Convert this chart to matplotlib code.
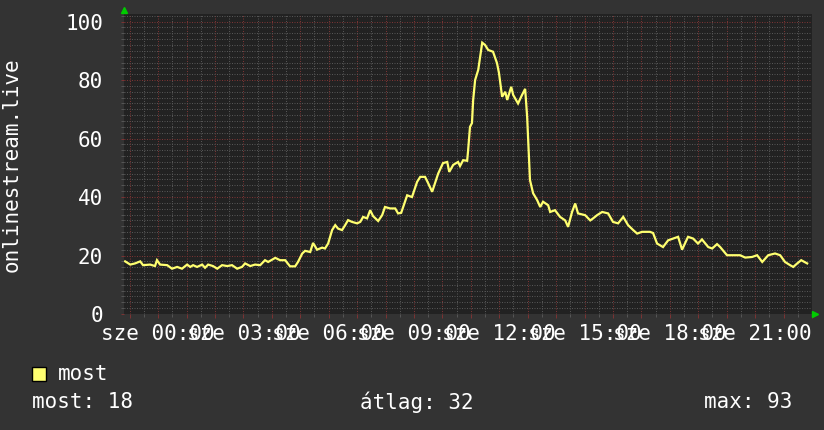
import matplotlib
matplotlib.use("Agg")
import matplotlib.pyplot as plt
from matplotlib.ticker import MultipleLocator

# hours relative to "sze 00:00"
hours = [-1.16, -0.98, -0.81, -0.63, -0.53, -0.28, -0.11, -0.04, 0.07, 0.32, 0.49, 0.67, 0.84,
         1.02, 1.13, 1.23, 1.37, 1.55, 1.65, 1.76, 1.93, 2.08, 2.25, 2.43, 2.60, 2.78, 2.95,
         3.06, 3.24, 3.41, 3.59, 3.76, 3.87, 4.12, 4.29, 4.47, 4.64, 4.82, 4.92, 5.07, 5.17,
         5.35, 5.45, 5.59, 5.77, 5.87, 5.98, 6.12, 6.23, 6.33, 6.47, 6.58, 6.68, 6.82, 7.00,
         7.11, 7.21, 7.35, 7.46, 7.56, 7.74, 7.88, 7.98, 8.16, 8.34, 8.44, 8.55, 8.62, 8.76,
         8.93, 9.11, 9.22, 9.39, 9.50, 9.64, 9.74, 9.85, 10.02, 10.17, 10.24, 10.38, 10.55,
         10.62, 10.73, 10.87, 10.90, 10.97, 11.04, 11.08, 11.15, 11.26, 11.40, 11.50, 11.61,
         11.78, 11.92, 11.99, 12.10, 12.21, 12.28, 12.42, 12.49, 12.66, 12.80, 12.91, 12.98,
         13.08, 13.19, 13.33, 13.44, 13.54, 13.72, 13.79, 13.96, 14.14, 14.32, 14.42, 14.56,
         14.67, 14.77, 15.02, 15.20, 15.30, 15.44, 15.62, 15.83, 16.00, 16.18, 16.36, 16.53,
         16.71, 16.85, 17.02, 17.30, 17.41, 17.55, 17.76, 17.94, 18.12, 18.29, 18.43, 18.64,
         18.82, 18.99, 19.13, 19.35, 19.49, 19.66, 19.77, 20.01, 20.22, 20.47, 20.65, 20.89,
         21.07, 21.25, 21.46, 21.70, 21.88, 22.05, 22.23, 22.34, 22.48, 22.62, 22.83]
most = [18.0, 16.9, 17.3, 18.0, 16.7, 16.9, 16.4, 18.4, 16.9, 16.7, 15.5, 16.1, 15.5,
        16.9, 16.1, 16.7, 16.1, 16.9, 15.8, 16.9, 16.4, 15.5, 16.7, 16.4, 16.7, 15.5, 16.1,
        17.3, 16.4, 16.9, 16.7, 18.4, 17.8, 19.2, 18.4, 18.4, 16.3, 16.3, 17.8, 20.7, 21.6,
        21.2, 24.3, 22.0, 22.7, 22.4, 24.1, 28.7, 30.4, 29.2, 28.7, 30.4, 32.1, 31.5, 31.0,
        31.5, 33.2, 32.7, 35.5, 33.5, 31.8, 33.8, 36.6, 36.1, 36.1, 34.4, 34.6, 36.6, 40.6,
        40.0, 45.2, 46.9, 46.9, 44.7, 41.8, 44.7, 48.0, 51.6, 52.0, 48.6, 51.0, 52.0,
        50.6, 52.6, 52.4, 55.5, 64.0, 65.3, 73.0, 80.0, 83.5, 92.8, 92.0, 90.3,
        89.7, 85.8, 82.4, 74.3, 76.0, 73.2, 77.7, 74.9, 72.0, 74.9, 77.0, 67.5,
        45.8, 41.3, 39.0, 36.6, 38.4, 37.2, 34.9, 35.5, 33.2, 32.0, 29.8, 34.9,
        37.8, 34.4, 33.8, 32.0, 32.7, 33.8, 34.9, 34.4, 31.5, 31.0, 33.2, 30.4,
        28.7, 27.5, 28.1, 28.1, 27.7, 24.1, 22.9, 25.2, 25.8, 26.4, 22.0, 26.4,
        25.8, 24.1, 25.5, 22.9, 22.4, 23.9, 22.9, 20.1, 20.1, 20.1, 19.3, 19.5,
        20.1, 17.8, 20.1, 20.7, 20.1, 17.8, 16.7, 16.1, 17.3, 18.4, 17.3]

xtick_hours = [0, 3, 6, 9, 12, 15, 18, 21]
xtick_labels = ["sze 00:00", "sze 03:00", "sze 06:00", "sze 09:00",
                "sze 12:00", "sze 15:00", "sze 18:00", "sze 21:00"]
yticks = [0, 20, 40, 60, 80, 100]
ylabel = "onlinestream.live"
legend_name = "most"
stats = ["most: 18", "átlag: 32", "max: 93"]

BG = "#333333"
CANVAS = "#222222"
FONT = "DejaVu Sans Mono"
FS = 15
LINE_C = "#ffff70"
MAJ = "#7a3333"
MIN = "#555555"

fig = plt.figure(figsize=(8.24, 4.30), dpi=100, facecolor=BG)
ax = fig.add_axes([124/824, 1-314/430, (812-124)/824, (314-14)/430])
ax.set_facecolor(CANVAS)
ax.set_xlim(-1.2, 23.0)
ax.set_ylim(0, 102.6)

for s in ax.spines.values():
    s.set_visible(False)

ax.xaxis.set_minor_locator(MultipleLocator(0.5))
ax.yaxis.set_minor_locator(MultipleLocator(2))
ax.grid(which="minor", color=MIN, linestyle=(0, (1, 1.5)), linewidth=0.72)
ax.grid(which="major", color=MAJ, linestyle=(0, (1, 1.5)), linewidth=0.72)
ax.set_axisbelow(True)

ax.tick_params(axis="both", which="both", length=2, width=0.72)
ax.tick_params(axis="y", which="major", colors=MAJ, labelcolor="white", pad=13)
ax.tick_params(axis="y", which="minor", colors=MIN)
ax.tick_params(axis="x", which="minor", colors=MIN)

ax.set_yticks(yticks)
ax.set_yticklabels([str(v) for v in yticks], fontsize=FS, family=FONT, color="white")

# major grid every hour, labels every 3 hours
ax.set_xticks(list(range(-1, 24)))
lbls = []
for h in range(-1, 24):
    lbls.append(xtick_labels[xtick_hours.index(h)] if h in xtick_hours else "")
ax.set_xticklabels(lbls, fontsize=FS, family=FONT, color="white")
ax.tick_params(axis="x", which="major", colors=MAJ, labelcolor="white", length=3, pad=4)

ax.plot(hours, most, color=LINE_C, linewidth=1.6, solid_joinstyle="miter", zorder=3)

fig.text(12/824, 1-165/430, ylabel, rotation=90, ha="center", va="center",
         fontsize=FS, family=FONT, color="white")

# arrows
fig.lines.append(plt.Line2D([124/824], [1-10/430], marker="^", color="#00cc00",
                            markersize=5, transform=fig.transFigure, linestyle="none"))
fig.lines.append(plt.Line2D([815/824], [1-314/430], marker=">", color="#00cc00",
                            markersize=5, transform=fig.transFigure, linestyle="none"))

# legend
fig.patches.append(plt.Rectangle((32/824, 1-381/430), 14/824, 14/430, transform=fig.transFigure,
                                 facecolor=LINE_C, edgecolor="black", linewidth=1))
fig.text(58/824, 1-374/430, legend_name, ha="left", va="center", fontsize=FS, family=FONT, color="white")
fig.text(32/824, 1-402/430, stats[0], ha="left", va="center", fontsize=FS, family=FONT, color="white")
fig.text(360/824, 1-402/430, stats[1], ha="left", va="center", fontsize=FS, family=FONT, color="white")
fig.text(792/824, 1-402/430, stats[2], ha="right", va="center", fontsize=FS, family=FONT, color="white")

fig.savefig("out.png", dpi=100, facecolor=BG)
